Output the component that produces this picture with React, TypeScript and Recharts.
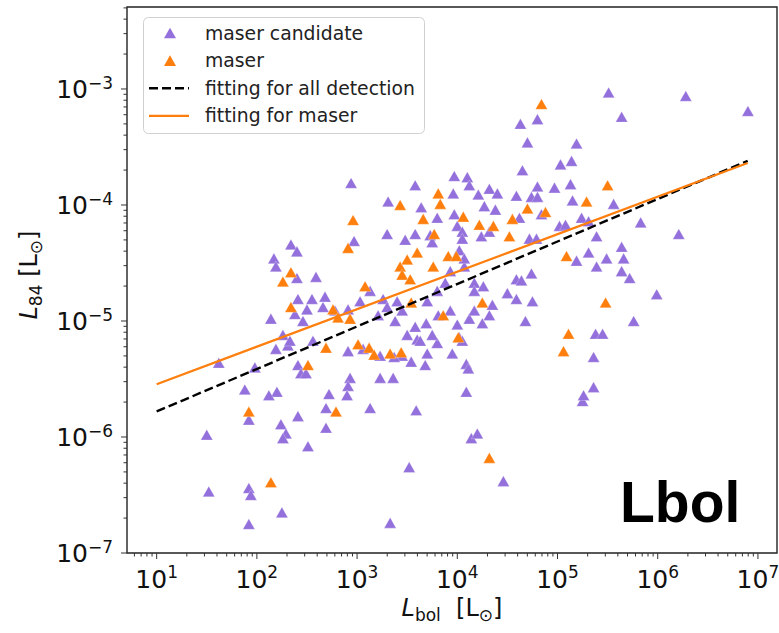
import React from 'react';
import { ScatterChart, Scatter, XAxis, YAxis, ReferenceArea } from 'recharts';

const W = 779;
const H = 633;

const PURPLE = '#9370db';
const ORANGE = '#ff7f0e';
const FONT = '"DejaVu Sans", sans-serif';

// [log10 Lbol, log10 L84]
const candidateLog: [number, number][] = [
  [5.51, -3.03], [6.28, -3.06], [6.9, -3.19], [5.64, -3.24], [4.63, -3.3], [4.8, -3.26], [4.7, -3.46],
  [5.19, -3.47], [5.14, -3.62], [5.03, -3.65], [4.65, -3.7], [3.97, -3.75], [4.1, -3.76], [4.12, -3.83],
  [2.94, -3.81], [3.58, -3.83], [4.8, -3.84], [5.13, -3.82], [4.97, -3.85], [3.96, -3.9], [4.21, -3.91],
  [4.32, -3.86], [4.4, -3.9], [4.59, -3.92], [4.74, -3.93], [4.8, -3.93], [5.15, -3.96], [5.56, -3.99],
  [3.31, -3.97], [3.64, -4.02], [4.27, -4.01], [4.38, -4.04], [3.97, -4.08], [3.8, -4.11], [4.0, -4.18],
  [4.05, -4.23], [4.62, -4.11], [4.84, -4.08], [5.02, -4.18], [5.08, -4.17], [5.24, -4.11], [5.31, -4.14],
  [5.39, -4.27], [5.83, -4.15], [6.21, -4.25], [3.3, -4.25], [3.58, -4.25], [3.48, -4.3], [2.97, -4.31],
  [3.73, -4.26], [3.75, -4.32], [4.05, -4.29], [4.24, -4.27], [4.32, -4.23], [4.72, -4.29], [4.79, -4.29],
  [5.64, -4.36], [5.66, -4.46], [5.49, -4.46], [5.19, -4.48], [5.31, -4.41], [5.39, -4.53], [5.64, -4.57],
  [5.72, -4.63], [4.74, -4.59], [4.59, -4.64], [4.64, -4.65], [4.59, -4.81], [4.75, -4.83], [4.5, -4.76],
  [5.99, -4.77], [5.76, -5.0], [4.68, -5.0], [2.34, -4.34], [2.4, -4.4], [2.17, -4.46], [2.19, -4.53],
  [2.4, -4.63], [2.59, -4.62], [2.14, -4.98], [2.41, -4.81], [2.55, -4.81], [2.5, -4.9], [2.68, -4.79],
  [2.66, -4.88], [2.78, -4.91], [2.91, -4.9], [3.03, -4.83], [3.13, -4.74], [3.26, -4.81], [3.3, -4.88],
  [3.21, -4.95], [3.4, -4.83], [3.38, -5.0], [3.45, -4.91], [3.5, -5.12], [3.58, -5.05], [3.6, -5.16],
  [3.69, -5.02], [3.7, -4.83], [3.8, -4.74], [3.88, -4.67], [3.93, -4.57], [4.07, -4.53], [4.02, -4.39],
  [4.07, -4.46], [4.17, -4.67], [4.26, -4.7], [4.17, -4.74], [3.81, -4.95], [3.93, -4.91], [4.0, -5.03],
  [4.02, -5.14], [4.12, -4.98], [4.17, -4.91], [4.25, -5.02], [4.32, -4.95], [4.35, -4.86], [3.8, -5.19],
  [3.7, -5.28], [3.63, -5.17], [3.75, -5.12], [3.95, -5.28], [4.05, -5.17], [4.09, -5.37], [4.11, -5.41],
  [3.68, -5.38], [3.54, -5.35], [3.45, -5.3], [3.37, -5.31], [3.23, -5.3], [3.36, -5.49], [3.23, -5.49],
  [3.06, -5.24], [2.91, -5.26], [2.93, -5.49], [2.91, -5.56], [2.9, -5.64], [2.72, -5.63], [2.69, -5.75],
  [2.69, -5.92], [2.51, -6.08], [2.41, -5.82], [2.24, -5.89], [2.29, -5.97], [2.26, -6.01], [2.2, -5.61],
  [2.12, -5.64], [1.88, -5.59], [1.92, -5.85], [1.98, -5.4], [2.19, -5.24], [2.31, -5.21], [2.41, -5.38],
  [2.44, -5.45], [2.49, -5.45], [2.56, -5.17], [1.62, -5.36], [1.5, -5.98], [1.52, -6.47], [1.92, -6.44],
  [1.94, -6.5], [1.92, -6.75], [2.25, -6.65], [3.13, -5.75], [3.59, -5.77], [3.33, -6.74], [3.52, -6.26],
  [4.14, -6.01], [4.2, -5.97], [4.46, -6.38], [4.09, -5.61], [5.25, -5.69], [5.26, -5.64], [5.36, -5.57],
  [5.36, -5.31], [5.38, -5.11], [5.45, -5.11], [2.38, -4.94], [2.46, -5.0], [2.26, -5.12], [2.33, -5.17],
];

const maserLog: [number, number][] = [
  [4.84, -3.13], [5.5, -3.83], [3.81, -3.9], [3.83, -3.99], [3.43, -4.0], [5.29, -3.97], [4.7, -4.03],
  [4.88, -4.06], [4.06, -4.1], [3.66, -4.12], [2.96, -4.13], [4.22, -4.17], [4.36, -4.18], [4.55, -4.12],
  [3.77, -4.25], [4.52, -4.27], [2.91, -4.37], [3.6, -4.41], [3.91, -4.44], [3.99, -4.44], [3.76, -4.53],
  [3.43, -4.53], [3.5, -4.47], [3.45, -4.6], [3.53, -4.64], [5.09, -4.44], [2.34, -4.58], [2.26, -4.66],
  [3.08, -4.7], [2.34, -4.88], [2.76, -4.9], [2.81, -4.97], [2.93, -4.98], [3.54, -4.84], [3.86, -4.95],
  [4.25, -4.84], [5.48, -4.84], [3.01, -5.2], [3.12, -5.23], [3.17, -5.29], [3.33, -5.28], [3.44, -5.27],
  [2.69, -5.23], [2.51, -5.38], [4.01, -5.14], [5.11, -5.11], [5.06, -5.26], [1.92, -5.78], [2.79, -5.78],
  [2.14, -6.39], [4.32, -6.18],
];

// fitted power laws, end points
const fitLbol = [10, 7.9e6];
const fitAllL84 = [1.66e-6, 2.4e-4];
const fitMaserL84 = [2.85e-6, 2.3e-4];

const X_DOMAIN: [number, number] = [5.06, 1.55e7];
const Y_DOMAIN: [number, number] = [1e-7, 5.09e-3];
const X_EXP = [0, 1, 2, 3, 4, 5, 6, 7];
const Y_EXP = [-7, -6, -5, -4, -3];
const STEPS = [1, 2, 3, 4, 5, 6, 7, 8, 9];

function logTicks(exps: number[], [lo, hi]: [number, number]) {
  const out: number[] = [];
  for (const e of exps) for (const m of STEPS) {
    const v = m * Math.pow(10, e);
    if (v >= lo * 0.999 && v <= hi * 1.001) out.push(v);
  }
  return out;
}
const xTicks = logTicks(X_EXP, X_DOMAIN);
const yTicks = logTicks(Y_EXP, Y_DOMAIN);

function isMajor(v: number) {
  const lg = Math.log10(v);
  return Math.abs(lg - Math.round(lg)) < 1e-6;
}

function XTick({ x, y, payload }: any) {
  const major = isMajor(payload.value);
  const e = Math.round(Math.log10(payload.value));
  return (
    <g>
      <line x1={x} x2={x} y1={y} y2={y + (major ? 6 : 3.5)} stroke="#333" strokeWidth={1} />
      {major && (
        <text x={x} y={y + 35} textAnchor="middle" fontFamily={FONT} fontSize={25} fill="#111">
          10<tspan dy={-10} fontSize={17}>{e}</tspan>
        </text>
      )}
    </g>
  );
}

function YTick({ x, y, payload }: any) {
  const major = isMajor(payload.value);
  const e = Math.round(Math.log10(payload.value));
  return (
    <g>
      <line x1={x} x2={x - (major ? 6 : 3.5)} y1={y} y2={y} stroke="#333" strokeWidth={1} />
      {major && (
        <text x={x - 14} y={y + 9} textAnchor="end" fontFamily={FONT} fontSize={25} fill="#111">
          10<tspan dy={-9} fontSize={17}>{'\u2212' + -e}</tspan>
        </text>
      )}
    </g>
  );
}

function XLabel({ viewBox }: any) {
  const vb = viewBox || { x: 127, y: 553, width: 650, height: 80 };
  return (
    <text x={vb.x + vb.width / 2} y={vb.y + 63} textAnchor="middle" fontFamily={FONT} fontSize={24} fill="#111">
      <tspan fontStyle="italic">L</tspan>
      <tspan fontSize={17} dy={5}>bol</tspan>
      <tspan dy={-5}>{'\u00a0\u00a0[L'}</tspan>
      <tspan fontSize={17} dy={5}>{'\u2299'}</tspan>
      <tspan dy={-5}>]</tspan>
    </text>
  );
}

function YLabel({ viewBox }: any) {
  const vb = viewBox || { x: 0, y: 7, width: 127, height: 546 };
  const cx = vb.x + 37;
  const cy = vb.y + vb.height / 2 - 5;
  return (
    <text transform={`rotate(-90 ${cx} ${cy})`} x={cx} y={cy} textAnchor="middle" fontFamily={FONT} fontSize={24} fill="#111">
      <tspan fontStyle="italic">L</tspan>
      <tspan fontSize={17} dy={5}>84</tspan>
      <tspan dy={-5}>{'\u00a0[L'}</tspan>
      <tspan fontSize={17} dy={5}>{'\u2299'}</tspan>
      <tspan dy={-5}>]</tspan>
    </text>
  );
}

function Tri({ cx, cy, color }: any) {
  if (cx == null || cy == null) return <g />;
  return (
    <polygon
      points={`${cx},${cy - 5.3} ${cx - 6},${cy + 5.3} ${cx + 6},${cy + 5.3}`}
      fill={color}
      stroke="#fff"
      strokeOpacity={0.5}
      strokeWidth={0.5}
    />
  );
}

const legendItems = [
  { label: 'maser candidate', kind: 'tri', color: PURPLE },
  { label: 'maser', kind: 'tri', color: ORANGE },
  { label: 'fitting for all detection', kind: 'dash', color: '#000' },
  { label: 'fitting for maser', kind: 'line', color: ORANGE },
];

export default function App() {
  const candidates = candidateLog.map(([a, b]) => ({ x: Math.pow(10, a), y: Math.pow(10, b) }));
  const masers = maserLog.map(([a, b]) => ({ x: Math.pow(10, a), y: Math.pow(10, b) }));
  const fitAll = fitLbol.map((x, i) => ({ x, y: fitAllL84[i] }));
  const fitMaser = fitLbol.map((x, i) => ({ x, y: fitMaserL84[i] }));

  return (
    <div style={{ position: 'absolute', left: 0, top: 0, width: W, height: H, background: '#fff' }}>
      <ScatterChart width={W} height={H} margin={{ top: 7, right: 2, bottom: 0, left: 0 }}>
        <XAxis
          type="number"
          dataKey="x"
          scale="log"
          domain={X_DOMAIN}
          allowDataOverflow
          ticks={xTicks}
          interval={0}
          tick={(p: any) => <XTick {...p} />}
          tickLine={false}
          axisLine={false}
          tickSize={0}
          tickMargin={0}
          height={80}
          label={{ content: (p: any) => <XLabel {...p} /> }}
        />
        <YAxis
          type="number"
          dataKey="y"
          scale="log"
          domain={Y_DOMAIN}
          allowDataOverflow
          ticks={yTicks}
          interval={0}
          tick={(p: any) => <YTick {...p} />}
          tickLine={false}
          axisLine={false}
          tickSize={0}
          tickMargin={0}
          width={127}
          label={{ content: (p: any) => <YLabel {...p} /> }}
        />
        <ReferenceArea
          x1={X_DOMAIN[0]}
          x2={X_DOMAIN[1]}
          y1={Y_DOMAIN[0]}
          y2={Y_DOMAIN[1]}
          fill="none"
          stroke="#222"
          strokeWidth={1.4}
          ifOverflow="visible"
        />
        <Scatter data={candidates} fill={PURPLE} shape={(p: any) => <Tri {...p} color={PURPLE} />} isAnimationActive={false} />
        <Scatter data={masers} fill={ORANGE} shape={(p: any) => <Tri {...p} color={ORANGE} />} isAnimationActive={false} />
        <Scatter
          data={fitAll}
          fill="#000"
          line={{ stroke: '#000', strokeWidth: 2.4, strokeDasharray: '9 4' }}
          shape={() => <g />}
          isAnimationActive={false}
        />
        <Scatter
          data={fitMaser}
          fill={ORANGE}
          line={{ stroke: ORANGE, strokeWidth: 2.2 }}
          shape={() => <g />}
          isAnimationActive={false}
        />
      </ScatterChart>
      <svg width={W} height={H} style={{ position: 'absolute', left: 0, top: 0, pointerEvents: 'none' }}>
        <rect x={143.5} y={17.5} width={281} height={116} rx={5} fill="#fff" fillOpacity={0.85} stroke="#d0d0d0" strokeWidth={1} />
        {legendItems.map((it, i) => {
          const cy = 33 + i * 27.6;
          return (
            <g key={it.label}>
              {it.kind === 'tri' && (
                <polygon points={`170,${cy - 5.3} 164,${cy + 5.3} 176,${cy + 5.3}`} fill={it.color} />
              )}
              {it.kind === 'dash' && (
                <line x1={149} x2={189} y1={cy} y2={cy} stroke={it.color} strokeWidth={2.4} strokeDasharray="9 4" />
              )}
              {it.kind === 'line' && <line x1={149} x2={189} y1={cy} y2={cy} stroke={it.color} strokeWidth={2.2} />}
              <text x={205} y={cy + 6.5} fontFamily={FONT} fontSize={18.8} fill="#222">
                {it.label}
              </text>
            </g>
          );
        })}
        <text x={620} y={522} fontFamily='"Liberation Sans", Arial, sans-serif' fontWeight="bold" fontSize={57} fill="#000">
          Lbol
        </text>
      </svg>
    </div>
  );
}
